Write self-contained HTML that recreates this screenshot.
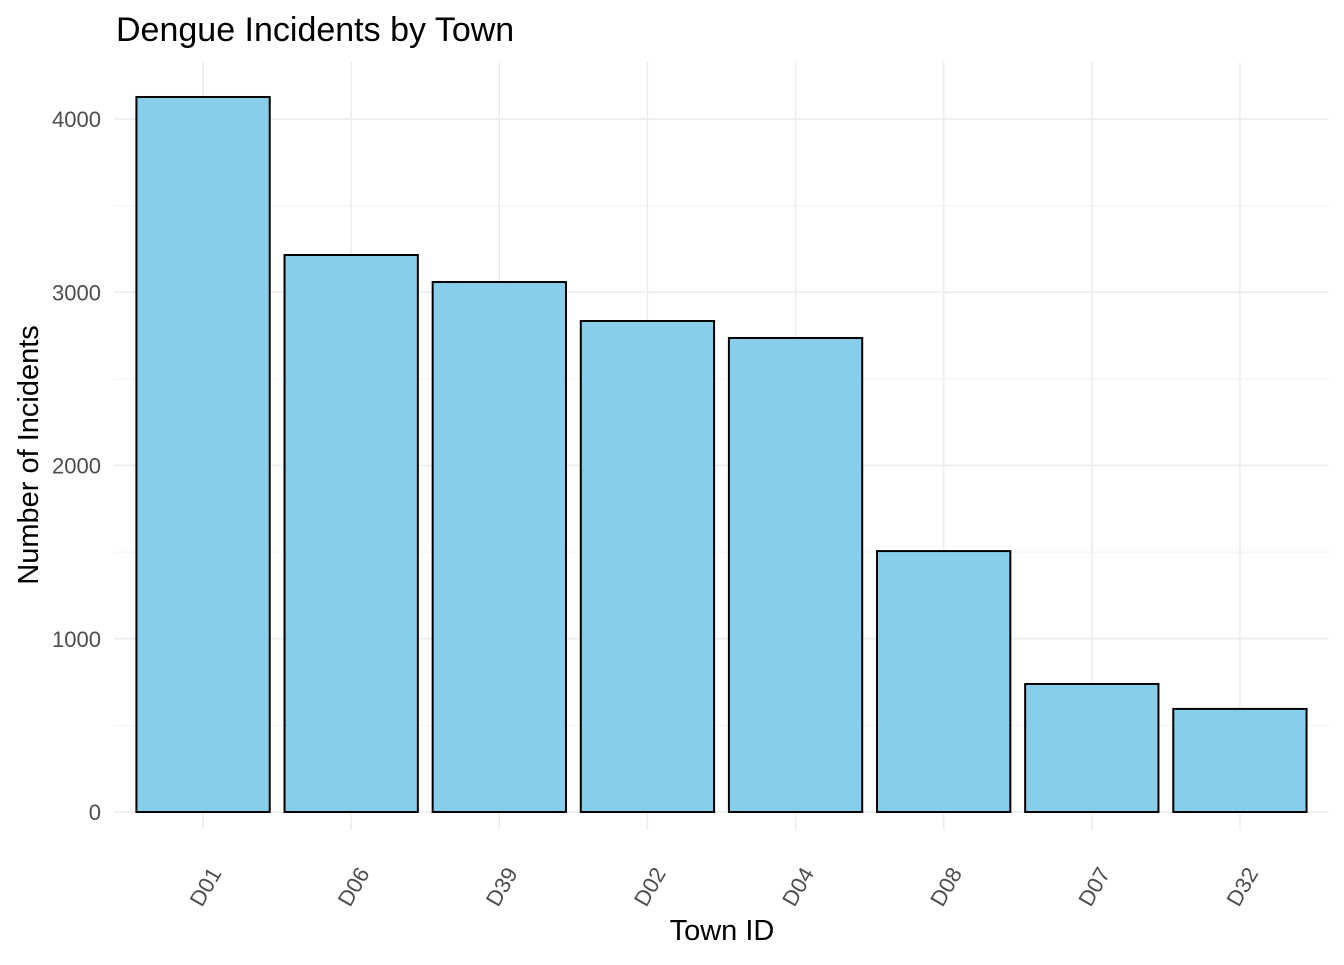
<!DOCTYPE html>
<html><head><meta charset="utf-8"><style>
body{margin:0;background:#fff;}
svg text{font-family:"Liberation Sans",Arial,sans-serif;}
</style></head><body>
<svg id="chart" width="1344" height="960" xmlns="http://www.w3.org/2000/svg">
<rect width="1344" height="960" fill="#fff"/>
<g id="grid"></g><g id="bars"></g><g id="axes"></g>
<text x="116" y="41" font-size="34" fill="#000">Dengue Incidents by Town</text>
<text x="722" y="940" font-size="29" text-anchor="middle" fill="#000">Town ID</text>
<text transform="translate(38,455) rotate(-90)" font-size="29" text-anchor="middle" fill="#000">Number of Incidents</text>
</svg>
<script>
const categories = ["D01","D06","D39","D02","D04","D08","D07","D32"];
const incidents = [4127,3215,3059,2834,2736,1506,739,595];
const yTicks = [0,1000,2000,3000,4000];
const yMinor = [500,1500,2500,3500];

const NS="http://www.w3.org/2000/svg";
const panelLeft=114.2, panelRight=1328.8, panelTop=62, panelBottom=830;
const band=(panelRight-panelLeft)/(categories.length-1+1.2);
const xc=i=>panelLeft+band*(0.6+i);
const yScale=v=>812-v*0.17325;
function mk(tag,attrs,parent){const e=document.createElementNS(NS,tag);for(const k in attrs)e.setAttribute(k,attrs[k]);parent.appendChild(e);return e;}
const grid=document.getElementById('grid'),bars=document.getElementById('bars'),axes=document.getElementById('axes');
yMinor.forEach(v=>{const l=mk('line',{x1:panelLeft,x2:panelRight,y1:yScale(v),y2:yScale(v),stroke:'#f2f2f2','stroke-width':1},grid);

});
yTicks.forEach(v=>{const l=mk('line',{x1:panelLeft,x2:panelRight,y1:yScale(v),y2:yScale(v),stroke:'#ebebeb','stroke-width':1.4},grid);


const t=mk('text',{x:101,y:yScale(v)+8,'font-size':22,'text-anchor':'end',fill:'#4d4d4d'},axes);t.textContent=v;

});
categories.forEach((c,i)=>{const l=mk('line',{x1:xc(i),x2:xc(i),y1:panelTop,y2:panelBottom,stroke:'#ebebeb','stroke-width':1.4},grid);


const w=band*0.9;
const r=mk('rect',{x:xc(i)-w/2,y:yScale(incidents[i]),width:w,height:yScale(0)-yScale(incidents[i]),fill:'#87ceeb',stroke:'#000','stroke-width':2},bars);


const t=mk('text',{transform:`translate(${xc(i)+19},${873}) rotate(-60)`,'font-size':22,'text-anchor':'end',fill:'#4d4d4d'},axes);t.textContent=c;

});
</script>
</body></html>
